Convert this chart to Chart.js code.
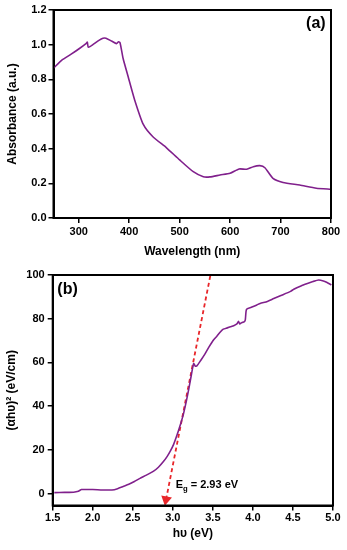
<!DOCTYPE html>
<html>
<head>
<meta charset="utf-8">
<script src="https://cdn.jsdelivr.net/npm/chart.js@4.4.0/dist/chart.umd.min.js"></script>
<style>
  html, body { margin: 0; padding: 0; background: #fff; }
  #chartA { position: absolute; left: 0; top: 0; }
  #chartB { position: absolute; left: 0; top: 262px; }
</style>
</head>
<body>
<canvas id="chartA" width="347" height="262"></canvas>
<canvas id="chartB" width="347" height="288"></canvas>
<script>
// (a) absorbance spectrum
const wavelength = [250, 266, 285, 300, 315, 317, 319, 328, 340, 348, 354, 365, 375, 379, 382, 388, 398, 411,
  428, 447, 474, 500, 527, 547, 560, 580, 600, 618, 633, 646, 659, 669, 685, 705, 738, 771, 800];
const absorbance = [0.864, 0.91, 0.945, 0.975, 1.008, 1.015, 0.985, 1.0, 1.025, 1.037, 1.037, 1.021, 1.006, 1.017, 1.01, 0.92, 0.815, 0.68,
  0.54, 0.469, 0.405, 0.335, 0.267, 0.238, 0.237, 0.248, 0.258, 0.283, 0.281, 0.296, 0.302, 0.29, 0.229, 0.205, 0.19, 0.172, 0.166];
const xTicksA = [300, 400, 500, 600, 700, 800];
const yTicksA = [0, 0.2, 0.4, 0.6, 0.8, 1.0, 1.2];

// (b) Tauc plot
const photonEnergy = [1.52, 1.65, 1.76, 1.82, 1.86, 2.0, 2.12, 2.24, 2.31, 2.38, 2.45, 2.52, 2.59, 2.67, 2.76, 2.82, 2.88, 2.93,
  2.97, 3.01, 3.05, 3.09, 3.13, 3.17, 3.2, 3.23, 3.26, 3.28, 3.3, 3.35, 3.4, 3.45, 3.51, 3.55, 3.59, 3.63, 3.68, 3.72,
  3.76, 3.8, 3.82, 3.835, 3.86, 3.89, 3.905, 3.92, 3.98, 4.05, 4.09, 4.18, 4.26, 4.35, 4.47, 4.51, 4.6, 4.68, 4.75,
  4.82, 4.88, 4.92, 4.98];
const taucValue = [0.4, 0.5, 0.6, 1.0, 1.8, 1.8, 1.6, 1.6, 2.2, 3.2, 4.2, 5.5, 6.9, 8.4, 10.2, 12.0, 14.5, 17.0,
  19.5, 22.5, 26.5, 31, 36, 42.5, 48, 54, 59.5, 58.3, 58.4, 61, 63.8, 67, 70.4, 72, 73.8, 75.2, 75.8, 76.3,
  76.8, 77.6, 78.8, 77.6, 78.2, 78.5, 79.5, 84.3, 85.2, 86.3, 87.0, 87.9, 89.2, 90.6, 92.5, 93.5, 95.0, 96.1, 97.0,
  97.7, 97.3, 96.7, 95.5];
const fitLineE = [2.915, 3.47];
const fitLineV = [-2.8, 100];
const xTicksB = [1.5, 2.0, 2.5, 3.0, 3.5, 4.0, 4.5, 5.0];
const yTicksB = [0, 20, 40, 60, 80, 100];
const bandGap = 2.93;

const purple = '#80208c';
const red = '#e8262a';
const fontFamily = '"Liberation Sans", Arial, sans-serif';

// box round the plot area
const framePlugin = {
  id: 'frame',
  afterDraw(chart) {
    const { ctx, chartArea: a } = chart;
    ctx.save();
    ctx.strokeStyle = '#000';
    ctx.lineWidth = 2;
    ctx.strokeRect(a.left, a.top, a.right - a.left, a.bottom - a.top);
    ctx.restore();
  }
};

// text notes placed in data coordinates
const notesPlugin = {
  id: 'notes',
  afterDraw(chart, args, opts) {
    const { ctx, scales } = chart;
    (opts.items || []).forEach((n) => {
      const px = scales.x.getPixelForValue(n.x);
      const py = scales.y.getPixelForValue(n.y);
      ctx.save();
      ctx.fillStyle = '#000';
      ctx.font = `bold ${n.size}px ${fontFamily}`;
      ctx.textAlign = n.align || 'left';
      ctx.textBaseline = n.baseline || 'alphabetic';
      if (n.sub) {
        ctx.fillText(n.text, px, py);
        let w = ctx.measureText(n.text).width;
        ctx.font = `bold ${n.size * 0.7}px ${fontFamily}`;
        ctx.fillText(n.sub, px + w, py + 3);
        w += ctx.measureText(n.sub).width;
        ctx.font = `bold ${n.size}px ${fontFamily}`;
        ctx.fillText(n.rest, px + w, py);
      } else {
        ctx.fillText(n.text, px, py);
      }
      ctx.restore();
    });
  }
};

function axis(cfg) {
  return {
    type: 'linear',
    min: cfg.min,
    max: cfg.max,
    afterBuildTicks: (s) => { s.ticks = cfg.ticks.map((v) => ({ value: v })); },
    afterFit: (s) => {
      if (cfg.width) s.width = cfg.width;
      if (cfg.height) s.height = cfg.height;
    },
    grid: { drawOnChartArea: false, drawTicks: true, tickLength: 5, color: '#000', lineWidth: 1.5 },
    border: { display: true, color: '#000', width: 2 },
    ticks: {
      color: '#000',
      padding: cfg.pad,
      maxRotation: 0,
      autoSkip: false,
      font: { family: fontFamily, size: 11, weight: 'bold' },
      callback: cfg.fmt
    },
    title: {
      display: true,
      text: cfg.title,
      color: '#000',
      padding: cfg.titlePad,
      font: { family: fontFamily, size: 12, weight: 'bold' }
    }
  };
}

new Chart('chartA', {
  type: 'line',
  data: {
    datasets: [{
      data: wavelength.map((w, i) => ({ x: w, y: absorbance[i] })),
      borderColor: purple,
      borderWidth: 1.6,
      pointRadius: 0,
      tension: 0.2,
      fill: false
    }]
  },
  options: {
    responsive: false,
    animation: false,
    layout: { padding: { top: 10, right: 16, left: 0, bottom: 0 } },
    plugins: {
      legend: { display: false },
      tooltip: { enabled: false },
      notes: { items: [{ text: '(a)', x: 770, y: 1.12, size: 16, align: 'center', baseline: 'middle' }] }
    },
    scales: {
      x: axis({ min: 250, max: 800, ticks: xTicksA, height: 44, pad: 2, title: 'Wavelength (nm)',
        titlePad: { top: 0, bottom: 3 }, fmt: (v) => v }),
      y: axis({ min: 0, max: 1.2, ticks: yTicksA, width: 53.5, pad: 2, title: 'Absorbance (a.u.)',
        titlePad: { top: 5, bottom: 0 }, fmt: (v) => v.toFixed(1) })
    }
  },
  plugins: [framePlugin, notesPlugin]
});

new Chart('chartB', {
  type: 'line',
  data: {
    datasets: [{
      data: photonEnergy.map((e, i) => ({ x: e, y: taucValue[i] })),
      borderColor: purple,
      borderWidth: 1.6,
      pointRadius: 0,
      tension: 0.2,
      fill: false
    }, {
      data: fitLineE.map((e, i) => ({ x: e, y: fitLineV[i] })),
      borderColor: red,
      borderWidth: 1.8,
      borderDash: [4, 3],
      pointStyle: 'triangle',
      pointRadius: [4.5, 0],
      pointRotation: 191,
      pointBackgroundColor: red,
      pointBorderColor: red,
      clip: false,
      fill: false
    }]
  },
  options: {
    responsive: false,
    animation: false,
    layout: { padding: { top: 13, right: 14, left: 0, bottom: 0 } },
    plugins: {
      legend: { display: false },
      tooltip: { enabled: false },
      notes: { items: [
        { text: '(b)', x: 1.685, y: 93.4, size: 16, align: 'center', baseline: 'middle' },
        { text: 'E', sub: 'g', rest: ' = ' + bandGap.toFixed(2) + ' eV', x: 3.035, y: 2.5, size: 11 }
      ] }
    },
    scales: {
      x: axis({ min: 1.5, max: 5.0, ticks: xTicksB, height: 44.5, pad: 1, title: 'h\u03c5 (eV)',
        titlePad: { top: 0, bottom: 9.5 }, fmt: (v) => v.toFixed(1) }),
      y: axis({ min: -5.5, max: 100, ticks: yTicksB, width: 52.7, pad: 3, title: '(\u03b1h\u03c5)\u00b2 (eV/cm)',
        titlePad: { top: 4, bottom: 0 }, fmt: (v) => v })
    }
  },
  plugins: [framePlugin, notesPlugin]
});
</script>
</body>
</html>
